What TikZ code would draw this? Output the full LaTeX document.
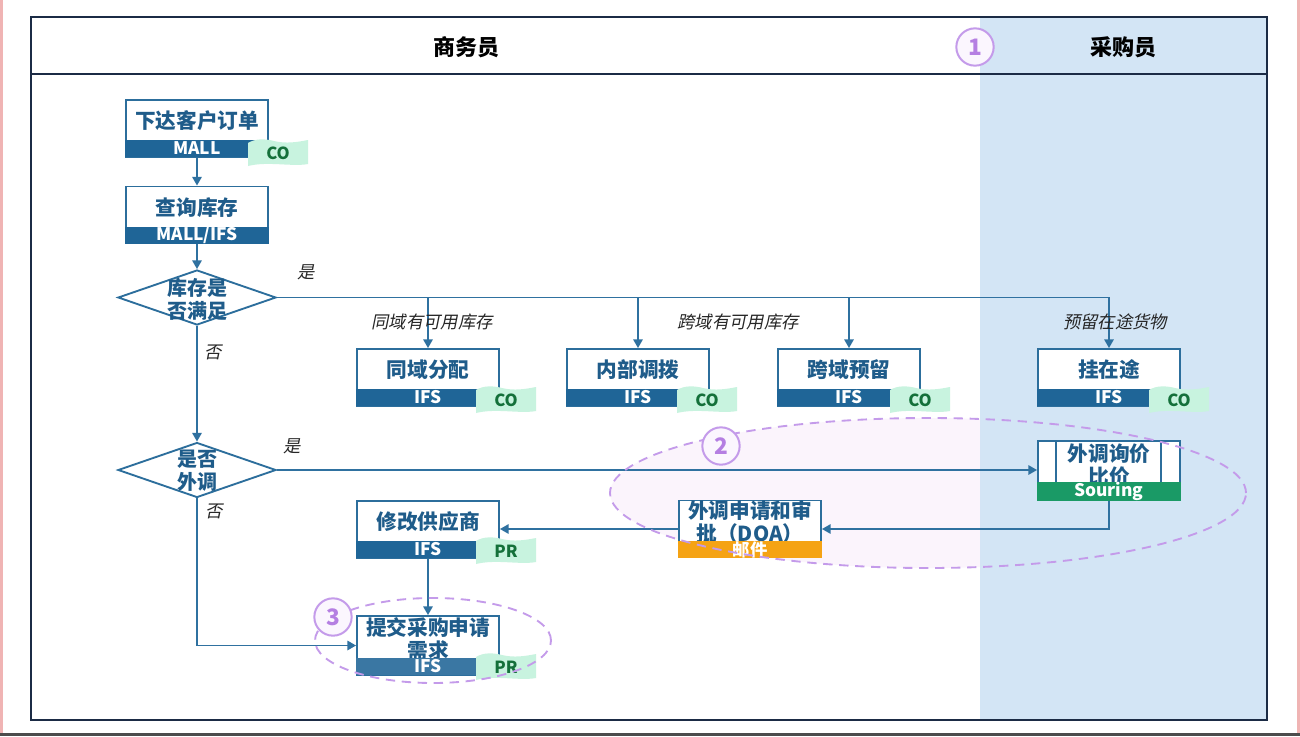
\documentclass[tikz,border=0pt]{standalone}
\usepackage{fontspec}
\setmainfont{Noto Sans CJK SC}
\newfontfamily\slantfont{Noto Sans CJK SC}[FakeSlant=0.2]
\usetikzlibrary{shapes.geometric,arrows.meta,calc}

\definecolor{framenavy}{HTML}{1B2B45}
\definecolor{lanebg}{HTML}{D3E5F5}
\definecolor{boxblue}{HTML}{2C6E9C}
\definecolor{txtblue}{HTML}{1F5C8A}
\definecolor{stripblue}{HTML}{1F6597}
\definecolor{linkblue}{HTML}{2F71A0}
\definecolor{stripgreen}{HTML}{1A9A66}
\definecolor{striporange}{HTML}{F5A314}
\definecolor{tagfill}{HTML}{C8F3DF}
\definecolor{tagtext}{HTML}{14703A}
\definecolor{markpurple}{HTML}{C49BEA}
\definecolor{marktext}{HTML}{B57FE2}
\definecolor{markfill}{HTML}{FBF6FE}
\definecolor{hazefill}{HTML}{F3DDF6}
\definecolor{pagepink}{HTML}{F0B4B4}

\tikzset{
  proc/.style={draw=boxblue, line width=1.4pt, fill=white, minimum width=106.5pt,
    minimum height=42.75pt, inner sep=0pt},
  boxtxt/.style={text=txtblue, font=\fontsize{15.5}{17.5}\selectfont\bfseries,
    align=center, inner sep=0pt},
  strip/.style={fill=stripblue, text=white, font=\fontsize{13}{13}\selectfont\bfseries,
    minimum width=107.6pt, minimum height=13pt, inner sep=0pt},
  tagtxt/.style={text=tagtext, font=\fontsize{12.5}{12.5}\selectfont\bfseries, inner sep=0pt},
  decision/.style={diamond, draw=boxblue, line width=1.4pt, fill=white,
    minimum width=118.5pt, minimum height=41.25pt, inner sep=0pt},
  dectxt/.style={text=txtblue, font=\fontsize{15}{17.5}\selectfont\bfseries,
    align=center, inner sep=0pt},
  arr/.style={draw=linkblue, line width=1.4pt, -{Triangle[width=7pt,length=6.5pt]}},
  edgelbl/.style={text=black!85, font=\fontsize{13}{13}\selectfont\slantfont, inner sep=0pt},
  lanehead/.style={text=black, font=\fontsize{16.5}{16.5}\selectfont\bfseries, inner sep=0pt},
  marker/.style={circle, draw=markpurple, line width=1.5pt, fill=markfill, minimum size=28pt,
    inner sep=0pt, text=marktext, font=\fontsize{17}{17}\selectfont\bfseries},
  groupring/.style={ellipse, draw=markpurple, line width=1.4pt, dash pattern=on 7pt off 5pt},
}

% wavy sticky tag laid over a box's lower right corner: #1 name, #2 centre, #3 text
\newcommand\wavytag[3]{%
  \begin{scope}[shift={(#2)}]
    \fill[tagfill] (-30,-10) .. controls (-22,-15) and (-12,-14) .. (-4,-12)
      .. controls (8,-9) and (20,-11) .. (30,-13)
      -- (30,11) .. controls (14,14) and (-10,8) .. (-30,13) -- cycle;
  \end{scope}
  \node[tagtxt] (#1) at (#2) {#3};
}

\begin{document}
\begin{tikzpicture}[x=0.75pt, y=-0.75pt]
\useasboundingbox (0,0) rectangle (1300,736);
\fill[white] (0,0) rectangle (1300,736);

% page edges
\fill[pagepink] (0,0) rectangle (2.5,736);
\fill[pagepink] (1297,0) rectangle (1300,736);
\fill[black!70] (0,733) rectangle (1300,736);

% buyer lane background
\fill[lanebg] (980,17) rectangle (1267,720);

% soft haze inside group ring 2 (left lane only)
\begin{scope}
  \clip (31,17) rectangle (980,720);
  \node[ellipse, fill=hazefill, fill opacity=0.3, minimum width=477pt, minimum height=112.5pt,
    inner sep=0pt] (ring2bg) at (928,493) {};
\end{scope}

% frame and header
\draw[framenavy, line width=2pt] (31,17) rectangle (1267,720);
\draw[framenavy, line width=2pt] (31,74) -- (1267,74);
\node[lanehead] (h1) at (466,47) {商务员};
\node[lanehead] (h2) at (1123,47) {采购员};

% order entry
\node[proc] (xdkh) at (197,128.5) {};
\node[boxtxt] (xdkh-t) at (197,121) {下达客户订单};
\node[strip] (xdkh-s) at (197,148.5) {MALL};

% stock query
\node[proc] (cxkc) at (197,215) {};
\node[boxtxt] (cxkc-t) at (197,208) {查询库存};
\node[strip] (cxkc-s) at (197,235.5) {MALL/IFS};

% decisions
\node[decision] (d1) at (197,297.5) {};
\node[dectxt] (d1-t) at (197,299) {库存是\\否满足};
\node[decision] (d2) at (197,470) {};
\node[dectxt] (d2-t) at (197,471) {是否\\外调};

% stock outcomes
\node[proc] (tyfp) at (428,377.5) {};
\node[boxtxt] (tyfp-t) at (428,370) {同域分配};
\node[strip] (tyfp-s) at (428,397.5) {IFS};

\node[proc] (nbdb) at (638,377.5) {};
\node[boxtxt] (nbdb-t) at (638,370) {内部调拨};
\node[strip] (nbdb-s) at (638,397.5) {IFS};

\node[proc] (kyyl) at (849,377.5) {};
\node[boxtxt] (kyyl-t) at (849,370) {跨域预留};
\node[strip] (kyyl-s) at (849,397.5) {IFS};

\node[proc] (gzt) at (1109,377.5) {};
\node[boxtxt] (gzt-t) at (1109,370) {挂在途};
\node[strip] (gzt-s) at (1109,397.5) {IFS};

% external sourcing
\node[proc, minimum height=44.25pt] (wdxj) at (1109,470.5) {};
\draw[boxblue, line width=1.2pt] ($(wdxj.north west)+(19,0)$) -- ($(wdxj.south west)+(19,-17)$);
\draw[boxblue, line width=1.2pt] ($(wdxj.north east)+(-20,0)$) -- ($(wdxj.south east)+(-20,-17)$);
\node[boxtxt] (wdxj-t) at (1109,465) {外调询价\\比价};
\node[strip, fill=stripgreen] (wdxj-s) at (1109,491.5) {Souring};

\node[proc] (doa) at (750,529) {};
\node[boxtxt] (doa-t) at (750,522) {外调申请和审\\批（DOA）};
\node[strip, fill=striporange] (doa-s) at (750,549.5) {邮件};

\node[proc] (xggys) at (428,529.5) {};
\node[boxtxt] (xggys-t) at (428,522) {修改供应商};
\node[strip] (xggys-s) at (428,549.5) {IFS};

\node[proc, minimum height=44.25pt] (tjcg) at (428,645.5) {};
\node[boxtxt] (tjcg-t) at (428,639) {提交采购申请\\需求};
\node[strip, fill=stripblue!88!white] (tjcg-s) at (428,666.5) {IFS};

% system tags over box corners
\wavytag{tag1}{278,153}{CO}
\wavytag{tag2}{506,400}{CO}
\wavytag{tag3}{707,400}{CO}
\wavytag{tag4}{920,400}{CO}
\wavytag{tag5}{1179,400}{CO}
\wavytag{tag6}{506,551}{PR}
\wavytag{tag7}{506,667}{PR}

% connectors
\draw[arr] (xdkh.south) -- (cxkc.north);
\draw[arr] (cxkc.south) -- (d1.north);
\draw[arr] (d1.east) -| (gzt.north);
\draw[arr] (d1.east -| tyfp.north) -- (tyfp.north);
\draw[arr] (d1.east -| nbdb.north) -- (nbdb.north);
\draw[arr] (d1.east -| kyyl.north) -- (kyyl.north);
\draw[arr] (d1.south) -- (d2.north);
\draw[arr] (d2.east) -- (d2.east -| wdxj.west);
\draw[arr] (d2.south) |- (tjcg.west);
\draw[arr] (wdxj.south) |- (doa.east);
\draw[arr] (doa.west) -- (doa.west -| xggys.east);
\draw[arr] (xggys.south) -- (tjcg.north);

% connector labels
\node[edgelbl] (l-yes1) at (306,272) {是};
\node[edgelbl] (l-ty) at (432,322) {同域有可用库存};
\node[edgelbl] (l-ky) at (738,322) {跨域有可用库存};
\node[edgelbl] (l-yl) at (1115,322) {预留在途货物};
\node[edgelbl] (l-no1) at (213,352) {否};
\node[edgelbl] (l-yes2) at (292,446) {是};
\node[edgelbl] (l-no2) at (214,511) {否};

% group rings and markers
\node[groupring, minimum width=477pt, minimum height=112.5pt] (ring2) at (928,493) {};
\node[groupring, minimum width=177pt, minimum height=63.75pt] (ring3) at (433,640.5) {};
\node[marker] (m1) at (975,47) {1};
\node[marker] (m2) at (721,446) {2};
\node[marker] (m3) at (333,617) {3};
\end{tikzpicture}
\end{document}
